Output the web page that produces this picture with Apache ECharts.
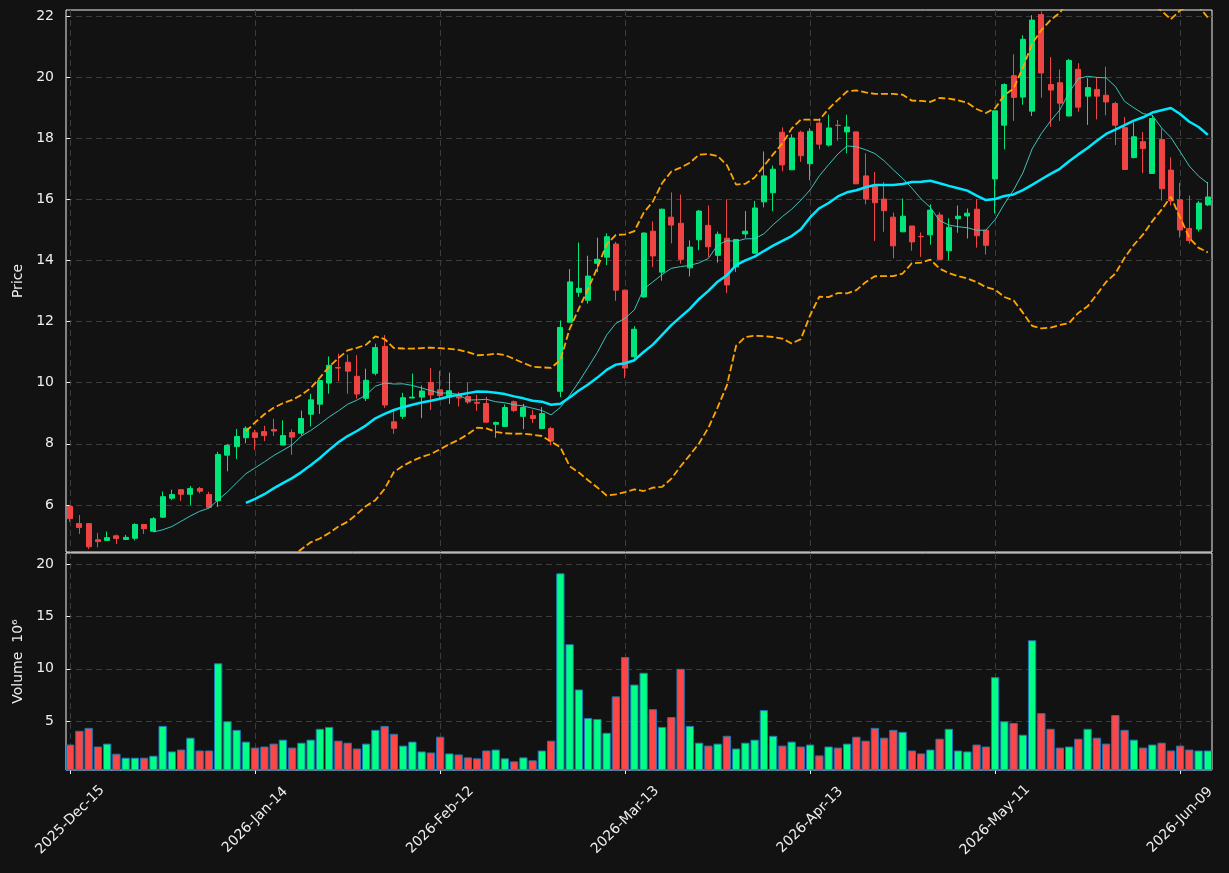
<!DOCTYPE html>
<html>
<head>
<meta charset="utf-8">
<title>Price and volume</title>
<script src="https://cdn.jsdelivr.net/npm/echarts@6/dist/echarts.min.js"></script>
<style>
  html, body { margin: 0; padding: 0; background: #121212; }
  #chart { width: 1229px; height: 873px; }
</style>
</head>
<body>
<div id="chart"></div>
<script>
// trading days, one per candle
var dates = [
    '2025-12-15', '2025-12-16', '2025-12-17', '2025-12-18', '2025-12-19', '2025-12-22', '2025-12-23', '2025-12-24', '2025-12-26', '2025-12-29', '2025-12-30', '2025-12-31',
    '2026-01-02', '2026-01-05', '2026-01-06', '2026-01-07', '2026-01-08', '2026-01-09', '2026-01-12', '2026-01-13', '2026-01-14', '2026-01-15', '2026-01-16', '2026-01-20', '2026-01-21', '2026-01-22', '2026-01-23', '2026-01-26', '2026-01-27', '2026-01-28', '2026-01-29', '2026-01-30',
    '2026-02-02', '2026-02-03', '2026-02-04', '2026-02-05', '2026-02-06', '2026-02-09', '2026-02-10', '2026-02-11', '2026-02-12', '2026-02-13', '2026-02-17', '2026-02-18', '2026-02-19', '2026-02-20', '2026-02-23', '2026-02-24', '2026-02-25', '2026-02-26', '2026-02-27',
    '2026-03-02', '2026-03-03', '2026-03-04', '2026-03-05', '2026-03-06', '2026-03-09', '2026-03-10', '2026-03-11', '2026-03-12', '2026-03-13', '2026-03-16', '2026-03-17', '2026-03-18', '2026-03-19', '2026-03-20', '2026-03-23', '2026-03-24', '2026-03-25', '2026-03-26', '2026-03-27', '2026-03-30', '2026-03-31',
    '2026-04-01', '2026-04-02', '2026-04-06', '2026-04-07', '2026-04-08', '2026-04-09', '2026-04-10', '2026-04-13', '2026-04-14', '2026-04-15', '2026-04-16', '2026-04-17', '2026-04-20', '2026-04-21', '2026-04-22', '2026-04-23', '2026-04-24', '2026-04-27', '2026-04-28', '2026-04-29', '2026-04-30',
    '2026-05-01', '2026-05-04', '2026-05-05', '2026-05-06', '2026-05-07', '2026-05-08', '2026-05-11', '2026-05-12', '2026-05-13', '2026-05-14', '2026-05-15', '2026-05-18', '2026-05-19', '2026-05-20', '2026-05-21', '2026-05-22', '2026-05-26', '2026-05-27', '2026-05-28', '2026-05-29',
    '2026-06-01', '2026-06-02', '2026-06-03', '2026-06-04', '2026-06-05', '2026-06-08', '2026-06-09', '2026-06-10', '2026-06-11', '2026-06-12'
];

var opens = [
    5.95, 5.39, 5.39, 4.86, 4.84, 4.99, 4.87, 4.91, 5.36, 5.14,
    5.60, 6.22, 6.50, 6.35, 6.54, 6.34, 6.14, 7.63, 7.91, 8.20,
    8.36, 8.40, 8.47, 7.96, 8.37, 8.35, 8.97, 9.30, 9.99, 10.50,
    10.67, 10.21, 9.49, 10.31, 11.19, 8.72, 8.90, 9.50, 9.53, 10.01,
    9.77, 9.53, 9.61, 9.55, 9.36, 9.32, 8.64, 8.57, 9.38, 8.90,
    8.93, 8.50, 8.50, 9.72, 11.98, 12.96, 12.70, 13.91, 14.11, 14.54,
    13.03, 10.85, 12.81, 14.96, 13.62, 15.42, 15.22, 13.76, 14.68, 15.15,
    14.17, 14.73, 13.79, 14.87, 14.24, 15.92, 16.22, 18.20, 16.97, 18.20,
    17.17, 18.50, 17.78, 18.43, 18.21, 18.21, 16.77, 16.45, 16.01, 15.42,
    14.94, 15.13, 14.79, 14.84, 15.49, 14.32, 15.37, 15.46, 15.68, 14.99,
    16.67, 18.43, 20.05, 19.35, 18.89, 22.05, 19.76, 19.82, 18.73, 20.26,
    19.38, 19.60, 19.41, 19.14, 18.35, 17.37, 17.89, 16.85, 17.96, 16.96,
    15.99, 15.05, 15.03, 15.82
];
var highs = [
    5.98, 5.67, 5.40, 5.08, 5.13, 5.03, 5.02, 5.40, 5.38, 5.60,
    6.44, 6.50, 6.52, 6.62, 6.59, 6.43, 7.74, 8.00, 8.49, 8.57,
    8.46, 8.59, 8.82, 8.77, 8.47, 9.09, 9.64, 10.10, 10.86, 10.95,
    10.92, 10.90, 10.46, 11.28, 11.56, 9.09, 9.67, 10.30, 9.91, 10.48,
    10.39, 10.33, 9.69, 10.00, 9.61, 9.54, 8.73, 9.29, 9.42, 9.31,
    9.11, 9.20, 8.56, 12.04, 13.72, 14.59, 14.16, 14.75, 14.89, 14.61,
    13.05, 11.85, 14.92, 15.28, 15.70, 16.23, 16.16, 14.66, 15.65, 15.80,
    14.95, 16.00, 14.69, 15.62, 15.95, 17.57, 17.11, 18.36, 18.13, 18.25,
    18.33, 18.66, 18.78, 18.60, 18.77, 18.21, 17.51, 16.90, 16.57, 15.57,
    16.03, 15.13, 14.92, 15.84, 15.58, 15.38, 15.80, 15.70, 16.01, 14.99,
    18.90, 19.80, 20.75, 21.37, 22.03, 22.15, 20.66, 20.25, 20.60, 20.46,
    19.97, 20.00, 20.34, 19.20, 18.70, 18.52, 18.21, 18.76, 18.32, 17.38,
    16.54, 16.13, 15.95, 16.57
];
var lows = [
    5.45, 5.05, 4.56, 4.61, 4.83, 4.72, 4.85, 4.84, 5.05, 5.13,
    5.58, 6.16, 6.13, 6.00, 6.38, 5.90, 5.93, 7.10, 7.50, 8.02,
    7.80, 8.09, 8.26, 7.96, 7.64, 8.27, 8.57, 8.98, 9.64, 10.05,
    9.64, 9.48, 9.40, 10.24, 9.18, 8.33, 8.82, 9.49, 8.84, 9.11,
    9.48, 9.30, 9.22, 9.31, 9.08, 8.70, 8.20, 8.55, 9.04, 8.48,
    8.68, 8.50, 7.95, 9.53, 11.98, 12.81, 12.59, 13.62, 13.85, 12.68,
    10.15, 10.75, 12.78, 13.79, 13.34, 14.56, 13.90, 13.48, 14.34, 14.12,
    13.93, 12.94, 13.63, 14.74, 14.24, 15.74, 15.62, 16.92, 16.97, 17.23,
    16.63, 17.64, 17.73, 17.92, 17.51, 16.51, 15.84, 14.64, 14.94, 14.07,
    14.94, 14.32, 14.12, 14.52, 14.04, 14.01, 14.91, 14.72, 14.42, 14.20,
    15.54, 17.64, 18.57, 19.10, 18.73, 19.33, 18.38, 18.57, 18.73, 18.87,
    18.44, 18.62, 18.75, 17.78, 16.98, 17.34, 16.86, 16.85, 15.96, 15.80,
    14.75, 14.55, 14.95, 15.78
];
var closes = [
    5.55, 5.26, 4.63, 4.80, 4.93, 4.90, 4.94, 5.36, 5.22, 5.55,
    6.27, 6.34, 6.35, 6.54, 6.45, 5.92, 7.65, 7.95, 8.24, 8.51,
    8.21, 8.27, 8.42, 8.27, 8.22, 8.83, 9.44, 10.07, 10.57, 10.48,
    10.38, 9.63, 10.08, 11.15, 9.27, 8.51, 9.51, 9.53, 9.73, 9.60,
    9.58, 9.74, 9.50, 9.37, 9.33, 8.71, 8.70, 9.19, 9.09, 9.19,
    8.83, 8.99, 8.09, 11.81, 13.30, 13.09, 13.49, 14.04, 14.78, 13.03,
    10.48, 11.75, 14.90, 14.15, 15.68, 15.16, 14.04, 14.44, 15.62, 14.45,
    14.86, 13.20, 14.69, 14.96, 15.72, 16.77, 16.99, 17.13, 18.01, 17.43,
    18.23, 17.81, 18.34, 18.42, 18.37, 16.51, 16.01, 15.89, 15.63, 14.48,
    15.45, 14.61, 14.78, 15.65, 14.04, 15.09, 15.45, 15.55, 14.81, 14.50,
    18.90, 19.76, 19.34, 21.24, 21.87, 20.14, 19.58, 19.15, 20.55, 19.02,
    19.66, 19.38, 19.19, 18.43, 16.98, 18.05, 17.67, 18.65, 16.35, 15.95,
    15.00, 14.65, 15.88, 16.08
];
// volume, millions
var volumes = [
    2.74, 4.06, 4.34, 2.55, 2.83, 1.86, 1.48, 1.48, 1.48, 1.67,
    4.53, 2.08, 2.26, 3.40, 2.17, 2.17, 10.53, 4.97, 4.15, 3.02,
    2.45, 2.55, 2.83, 3.21, 2.45, 2.92, 3.21, 4.25, 4.43, 3.11,
    2.92, 2.36, 2.83, 4.15, 4.53, 3.77, 2.64, 3.02, 2.08, 1.98,
    3.49, 1.89, 1.79, 1.51, 1.42, 2.17, 2.26, 1.42, 1.13, 1.51,
    1.23, 2.17, 3.11, 19.15, 12.36, 8.02, 5.28, 5.19, 3.87, 7.36,
    11.13, 8.49, 9.62, 6.13, 4.43, 5.38, 10.00, 4.53, 2.92, 2.64,
    2.83, 3.58, 2.36, 2.92, 3.21, 6.04, 3.58, 2.64, 3.02, 2.55,
    2.74, 1.70, 2.55, 2.45, 2.83, 3.49, 3.11, 4.34, 3.40, 4.15,
    3.96, 2.17, 1.89, 2.26, 3.30, 4.25, 2.17, 2.08, 2.74, 2.55,
    9.20, 4.97, 4.81, 3.68, 12.74, 5.75, 4.25, 2.45, 2.55, 3.30,
    4.25, 3.40, 2.83, 5.57, 4.15, 3.21, 2.45, 2.74, 2.92, 2.17,
    2.64, 2.26, 2.17, 2.17
];

var xTicks = [0, 20, 40, 60, 80, 100, 120];
var priceTicks = [6, 8, 10, 12, 14, 16, 18, 20, 22];
var volumeTicks = [5, 10, 15, 20];
var monthNames = ['Jan', 'Feb', 'Mar', 'Apr', 'May', 'Jun', 'Jul', 'Aug', 'Sep', 'Oct', 'Nov', 'Dec'];

var bg = '#121212';
var upColor = '#00e67a', downColor = '#ee4444';
var volUp = '#00ff84', volDown = '#ff4646';
var gridLine = { color: '#3c3c3c', type: [6, 4], width: 1 };
var labelColor = '#eeeeee';
var font = 'DejaVu Sans';

function sma(n) {
    var out = [];
    for (var i = n - 1; i < closes.length; i++) {
        var s = 0;
        for (var j = i - n + 1; j <= i; j++) s += closes[j];
        out.push([i, s / n]);
    }
    return out;
}

function band(n, k) {
    var out = [];
    for (var i = n - 1; i < closes.length; i++) {
        var s = 0, q = 0;
        for (var j = i - n + 1; j <= i; j++) s += closes[j];
        var m = s / n;
        for (var j = i - n + 1; j <= i; j++) q += (closes[j] - m) * (closes[j] - m);
        out.push([i, m + k * Math.sqrt(q / n)]);
    }
    return out;
}

function isTick(v, list) {
    for (var i = 0; i < list.length; i++) if (Math.abs(v - list[i]) < 1e-6) return true;
    return false;
}

var candles = [], vols = [];
for (var i = 0; i < dates.length; i++) {
    candles.push([i, opens[i], closes[i], lows[i], highs[i]]);
    vols.push({
        value: [i, volumes[i]],
        itemStyle: { color: closes[i] >= opens[i] ? volUp : volDown }
    });
}

var chart = echarts.init(document.getElementById('chart'));

var option = {
    animation: false,
    backgroundColor: bg,
    grid: [
        { left: 66, top: 10, width: 1146, height: 542, show: true, borderColor: '#f0f0f0', borderWidth: 1 },
        { left: 66, top: 553, width: 1146, height: 217, show: true, borderColor: '#f0f0f0', borderWidth: 1 }
    ],
    xAxis: [
        {
            type: 'value', gridIndex: 0, min: -0.45, max: 123.45, splitNumber: 6,
            axisLine: { show: false },
            axisTick: { show: false, customValues: xTicks },
            axisLabel: { show: false, customValues: xTicks },
            splitLine: { show: true, lineStyle: gridLine }
        },
        {
            type: 'value', gridIndex: 1, min: -0.45, max: 123.45, splitNumber: 6,
            axisLine: { show: false },
            axisTick: { show: true, length: 4, customValues: xTicks, lineStyle: { color: '#f0f0f0' } },
            axisLabel: {
                customValues: xTicks,
                color: labelColor, fontFamily: font, fontSize: 14,
                rotate: 45, align: 'center', verticalAlign: 'middle', margin: 50,
                formatter: function (v) {
                    if (!isTick(v, xTicks)) return '';
                    var p = dates[Math.round(v)].split('-');
                    return p[0] + '-' + monthNames[+p[1] - 1] + '-' + p[2];
                }
            },
            splitLine: { show: true, lineStyle: gridLine }
        }
    ],
    yAxis: [
        {
            type: 'value', gridIndex: 0, min: 4.46, max: 22.2, splitNumber: 9,
            name: 'Price', nameLocation: 'middle', nameGap: 34,
            nameTextStyle: { color: labelColor, fontFamily: font, fontSize: 14 },
            axisLine: { show: false },
            axisTick: { show: true, length: 4, customValues: priceTicks, lineStyle: { color: '#f0f0f0' } },
            axisLabel: {
                customValues: priceTicks, color: labelColor, fontFamily: font, fontSize: 14, margin: 12,
                formatter: function (v) { return isTick(v, priceTicks) ? String(v) : ''; }
            },
            splitLine: { show: true, lineStyle: gridLine }
        },
        {
            type: 'value', gridIndex: 1, min: 0.3, max: 21.1, splitNumber: 4,
            name: 'Volume  10\u2076', nameLocation: 'middle', nameGap: 35,
            nameTextStyle: { color: labelColor, fontFamily: font, fontSize: 14 },
            axisLine: { show: false },
            axisTick: { show: true, length: 4, customValues: volumeTicks, lineStyle: { color: '#f0f0f0' } },
            axisLabel: {
                customValues: volumeTicks, color: labelColor, fontFamily: font, fontSize: 14, margin: 12,
                formatter: function (v) { return isTick(v, volumeTicks) ? String(v) : ''; }
            },
            splitLine: { show: true, lineStyle: gridLine }
        }
    ],
    series: [
        {
            name: 'OHLC', type: 'candlestick', xAxisIndex: 0, yAxisIndex: 0,
            data: candles, encode: { x: 0, y: [1, 2, 3, 4] },
            barWidth: '60%',
            itemStyle: {
                color: upColor, color0: downColor,
                borderColor: upColor, borderColor0: downColor, borderWidth: 1
            }
        },
        {
            name: 'MA10', type: 'line', xAxisIndex: 0, yAxisIndex: 0,
            data: sma(10), showSymbol: false, clip: true,
            lineStyle: { color: '#3fd6cc', width: 1, opacity: 0.9 }
        },
        {
            name: 'MA20', type: 'line', xAxisIndex: 0, yAxisIndex: 0,
            data: sma(20), showSymbol: false, clip: true,
            lineStyle: { color: '#00e8ff', width: 2.5 }
        },
        {
            name: 'Upper', type: 'line', xAxisIndex: 0, yAxisIndex: 0,
            data: band(20, 2), showSymbol: false, clip: true,
            lineStyle: { color: '#ffa500', width: 1.8, type: [7, 3] }
        },
        {
            name: 'Lower', type: 'line', xAxisIndex: 0, yAxisIndex: 0,
            data: band(20, -2), showSymbol: false, clip: true,
            lineStyle: { color: '#ffa500', width: 1.8, type: [7, 3] }
        },
        {
            name: 'Volume', type: 'bar', xAxisIndex: 1, yAxisIndex: 1,
            data: vols, barWidth: '90%',
            itemStyle: { borderColor: '#1f77b4', borderWidth: 1 }
        }
    ]
};

chart.setOption(option);
</script>
</body>
</html>
